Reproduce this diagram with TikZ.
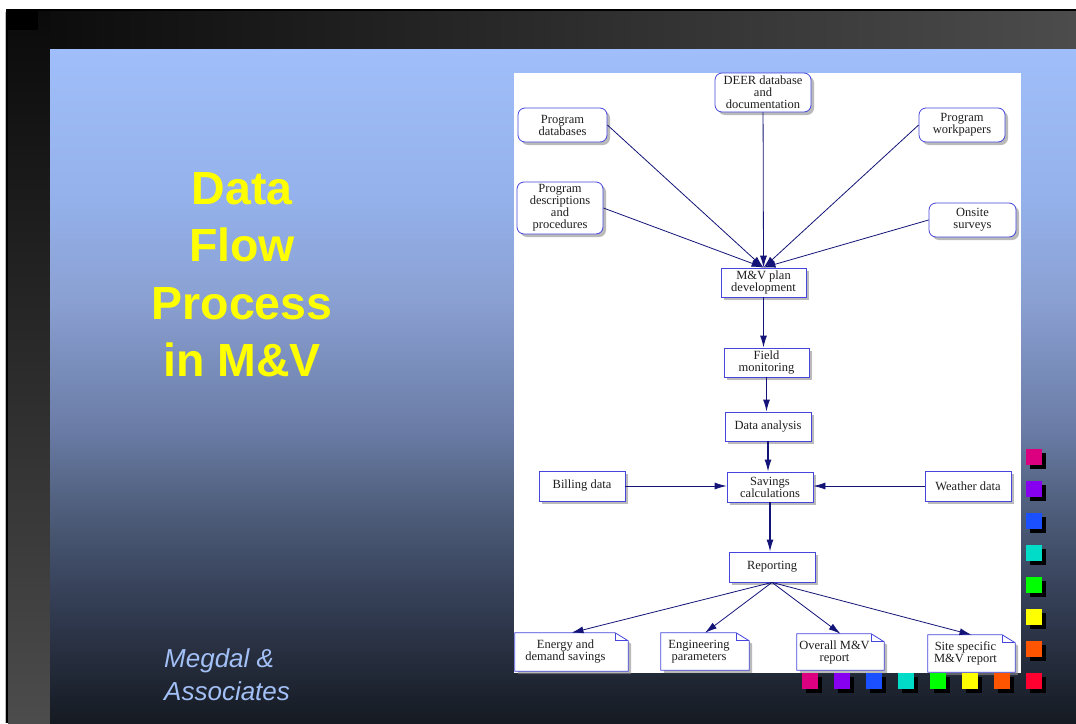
\documentclass[tikz,border=0pt]{standalone}
\usepackage{fontspec}
\newfontfamily\slidesans{Liberation Sans}
\newfontfamily\chartserif{Liberation Serif}
\usetikzlibrary{arrows.meta,shadows}

% slide colours
\definecolor{bgA}{HTML}{A0BEF9}
\definecolor{bgB}{HTML}{94B1EB}
\definecolor{bgC}{HTML}{8AA0D2}
\definecolor{bgD}{HTML}{6A7CA6}
\definecolor{bgE}{HTML}{51617F}
\definecolor{bgF}{HTML}{343E55}
\definecolor{bgG}{HTML}{151A22}
\definecolor{bandDark}{HTML}{0A0A0A}
\definecolor{bandLight}{HTML}{4C4C4C}
\definecolor{titleYellow}{HTML}{FFFF00}
\definecolor{creditBlue}{HTML}{A2BFF6}
% chart colours
\definecolor{boxblue}{RGB}{70,70,220}
\definecolor{arrownavy}{RGB}{20,20,120}
\definecolor{chartink}{HTML}{1E1E1E}
% tile colours
\definecolor{sqA}{HTML}{DC0080}
\definecolor{sqB}{HTML}{8800F0}
\definecolor{sqC}{HTML}{1A50FF}
\definecolor{sqD}{HTML}{00DCC8}
\definecolor{sqE}{HTML}{00FF00}
\definecolor{sqF}{HTML}{FFFF00}
\definecolor{sqG}{HTML}{FF5500}
\definecolor{sqH}{HTML}{FF0030}

% slide background: light blue at the top fading to near black at the bottom
\pgfdeclareverticalshading{slidebg}{100bp}{%
  color(0bp)=(bgG); color(25bp)=(bgG); color(34.12bp)=(bgF);
  color(41.54bp)=(bgE); color(46.74bp)=(bgD); color(56.38bp)=(bgC);
  color(63.8bp)=(bgB); color(75bp)=(bgA); color(100bp)=(bgA)}

\pgfdeclarelayer{slide}
\pgfdeclarelayer{under}
\pgfsetlayers{slide,under,main}

\newcommand\chartfont{\chartserif\fontsize{12.5}{12}\selectfont}

\tikzset{
  sz/.style 2 args={minimum width=#1pt, minimum height=#2pt},
  boxshadow/.style={drop shadow={shadow xshift=3pt, shadow yshift=-3pt,
      fill=black!45, opacity=.6}},
  chartbox/.style={draw=boxblue, line width=0.8pt, fill=white, inner sep=0pt,
      align=center, font=\chartfont, text=chartink, boxshadow},
  srcbox/.style={chartbox, rounded corners=7pt},
  stepbox/.style={chartbox},
  doctext/.style={inner sep=0pt, align=center, font=\chartfont, text=chartink},
  docedge/.style={draw=boxblue, line width=0.8pt},
  flow/.style={draw=arrownavy, line width=0.8pt,
      -{Latex[length=12pt,width=7pt]}},
  trunk/.style={flow, line width=1.2pt},
}

\begin{document}
\begin{tikzpicture}[x=1pt,y=-1pt]
\useasboundingbox (0,0) rectangle (1076,723);

\begin{pgfonlayer}{slide}
  \fill[white] (0,0) rectangle (1076,723);
  % dark frame bands
  \shade[left color=bandDark, right color=bandLight] (8,11) rectangle (1076,49);
  \shade[top color=bandDark, bottom color=bandLight] (8,11) rectangle (50,723);
  \fill[black] (8,11) rectangle (38,30);
  % main slide area
  \shade[shading=slidebg] (50,49) rectangle (1076,723);
  \draw[black!25, line width=0.8pt] (5,12) -- (5,723);
  \draw[black, line width=2.4pt] (1076,10) -- (7,10) -- (7,723);
  % white chart panel
  \fill[white] (514,73) rectangle (1021,673);
\end{pgfonlayer}

% title and credit
\node[font=\slidesans\bfseries\fontsize{46.5}{57.5}\selectfont, text=titleYellow,
      align=center, inner sep=0pt] (title) at (242,274.6)
  {Data\\Flow\\Process\\in M\&V};
\node[font=\slidesans\itshape\fontsize{26}{33}\selectfont, text=creditBlue,
      align=left, inner sep=0pt, anchor=north west] (credit) at (164,648)
  {Megdal \&\\Associates};

% data sources
\node[srcbox, sz={96}{39}] (deer) at (763,92.5) {DEER database\\and\\documentation};
\node[srcbox, sz={89}{34}] (pdb) at (562.5,125) {Program\\databases};
\node[srcbox, sz={86}{34}] (pwp) at (962,125) {Program\\workpapers};
\node[srcbox, sz={86}{52}] (pdp) at (560,208) {Program\\descriptions\\and\\procedures};
\node[srcbox, sz={87}{34}] (ons) at (972.5,220) {Onsite\\surveys};

% process steps
\node[stepbox, sz={85}{29}] (mv) at (763.5,282.5) {M\&V plan\\development};
\node[stepbox, sz={85}{29}] (fm) at (766.5,362.5) {Field\\monitoring};
\node[stepbox, sz={86}{29}] (da) at (768,426.5) {Data analysis};
\node[stepbox, sz={86}{30}] (bill) at (582,486) {Billing data};
\node[stepbox, sz={86}{30}] (sav) at (770,487) {Savings\\calculations};
\node[stepbox, sz={86}{30}] (wx) at (968,486) {Weather data};
\node[stepbox, sz={86}{30}] (rep) at (772,567) {Reporting};

% output documents (text area; the folded corner column lies to its right)
\node[doctext, sz={101}{38}] (eds) at (565.5,652) {Energy and\\demand savings};
\node[doctext, sz={76}{37}] (eng) at (699,651.5) {Engineering\\parameters};
\node[doctext, sz={75}{36}] (ovr) at (834.5,652) {Overall M\&V\\report};
\node[doctext, sz={75}{37}] (site) at (965.5,653.5) {Site specific\\M\&V report};

\begin{pgfonlayer}{under}
  \foreach \d in {eds,eng,ovr,site}{
    \filldraw[docedge, fill=white, boxshadow]
      (\d.north west) -- ([xshift=-1pt]\d.north east)
      -- ([xshift=12pt,yshift=-8pt]\d.north east)
      -- ([xshift=12pt]\d.south east) -- (\d.south west) -- cycle;
    \draw[docedge] ([xshift=-1pt]\d.north east)
      |- ([xshift=12pt,yshift=-8pt]\d.north east);
  }
\end{pgfonlayer}

% connectors
\draw[flow] (deer) -- (mv.north);
\draw[flow] (pdb.east) -- (mv.north);
\draw[flow] (pdp.east) -- (mv.north);
\draw[flow] (pwp.west) -- (mv.north);
\draw[flow] (ons.west) -- (mv.north);
\draw[trunk] (mv.south) -- (mv.south |- fm.north);
\draw[trunk] (fm.south) -- (fm.south |- da.north);
\draw[trunk] (da.south) -- (da.south |- sav.north);
\draw[flow] (bill.east) -- (bill.east -| sav.west);
\draw[flow] (wx.west) -- (wx.west -| sav.east);
\draw[trunk] (sav.south) -- (sav.south |- rep.north);
\foreach \d in {eds,eng,ovr,site}
  \draw[flow] (rep.south) -- ([xshift=6pt]\d.north);

% coloured tiles along the right and bottom edges
\foreach \c [count=\i from 0] in {sqA,sqB,sqC,sqD,sqE,sqF,sqG,sqH}{
  \fill[black] (1030,453+32*\i) rectangle ++(16,16);
  \fill[\c] (1026,449+32*\i) rectangle ++(16,16);
}
\foreach \c [count=\i from 0] in {sqA,sqB,sqC,sqD,sqE,sqF,sqG}{
  \fill[black] (806+32*\i,677) rectangle ++(16,16);
  \fill[\c] (802+32*\i,673) rectangle ++(16,16);
}
\end{tikzpicture}
\end{document}
